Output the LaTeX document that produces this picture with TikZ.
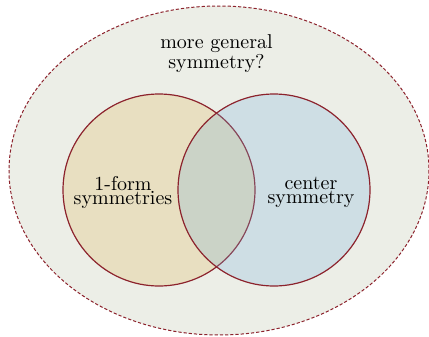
\documentclass[tikz,border=0pt]{standalone}
\begin{document}
\begin{tikzpicture}[x=0.5pt,y=-0.5pt,
  edge/.style={draw=darkred, line width=0.6pt},
  lbl/.style={align=center, inner sep=0pt}]
\definecolor{darkred}{RGB}{140,34,44}
\definecolor{bgfill}{RGB}{236,238,231}
\definecolor{leftfill}{RGB}{232,223,193}
\definecolor{rightfill}{RGB}{120,176,220}
\useasboundingbox (0,0) rectangle (429,337);
\path[fill=bgfill, draw=darkred, line width=0.5pt, dash pattern=on 1.6pt off 1pt]
  (219,170.5) ellipse [x radius=210, y radius=164.5];
\node[circle, minimum size=96pt, fill=leftfill, edge] (L) at (159,190) {};
\node[circle, minimum size=96pt, fill=rightfill, fill opacity=0.25, edge] (R) at (274,190) {};
\node[lbl, font={\fontsize{10}{8.6}\selectfont}, anchor=base] (T) at (216.5,68.5) {more general\\symmetry?};
\node[lbl, font={\fontsize{10}{6.8}\selectfont}, anchor=base] (A) at (123,204) {1-form\\symmetries};
\node[lbl, font={\fontsize{10}{6.8}\selectfont}, anchor=base] (B) at (311,203) {center\\symmetry};
\end{tikzpicture}
\end{document}
